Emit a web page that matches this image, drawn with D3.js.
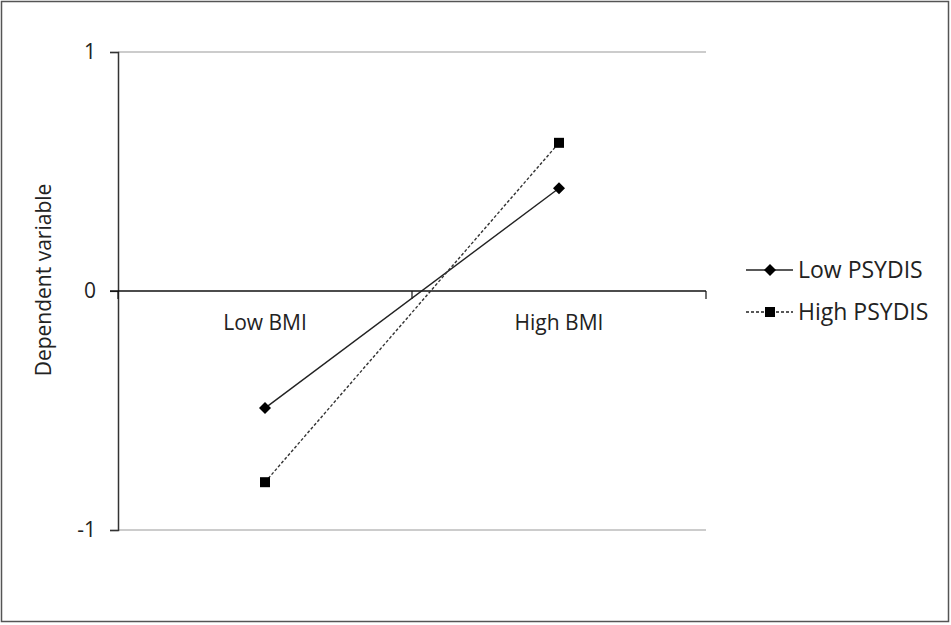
<!DOCTYPE html>
<html><head><meta charset="utf-8">
<script src="https://cdn.jsdelivr.net/npm/d3@7"></script>
<style>body{margin:0;background:#fff}svg{display:block}text{font-family:"Open Sans",sans-serif;fill:#222}</style>
</head><body>
<svg id="c" width="951" height="625"></svg>
<script>
const categories = ["Low BMI", "High BMI"];
const seriesNames = ["Low PSYDIS", "High PSYDIS"];
const lowPsydis = [-0.49, 0.43];
const highPsydis = [-0.80, 0.62];
const yTicks = [-1, 0, 1];
const yTitle = "Dependent variable";

const svg = d3.select("#c");
svg.append("rect").attr("x",1.5).attr("y",1.5).attr("width",947).attr("height",620)
  .attr("fill","#fff").attr("stroke","#555").attr("stroke-width",1.5);

const L=118, R=706, T=52, B=530;
const x = d3.scaleBand().domain(categories).range([L,R]);
const y = d3.scaleLinear().domain([-1,1]).range([B,T]);

svg.selectAll(".grid").data(yTicks.filter(d=>d!==0)).enter().append("line")
  .attr("x1",L).attr("x2",R).attr("y1",d=>y(d)).attr("y2",d=>y(d))
  .attr("stroke","#999").attr("stroke-width",1.2);

const yAxis = svg.append("g").attr("transform",`translate(${L},0)`)
  .call(d3.axisLeft(y).tickValues(yTicks).tickSize(8).tickPadding(14).tickFormat(d=>String(d)));
yAxis.select(".domain").attr("stroke","#333").attr("stroke-width",1.5);
yAxis.selectAll(".tick line").attr("stroke","#333").attr("stroke-width",1.2);
yAxis.selectAll(".tick text").attr("font-size",21).attr("fill","#222").style("font-family","'Open Sans',sans-serif");

const xAxis = svg.append("g").attr("transform",`translate(0,${y(0)})`)
  .call(d3.axisBottom(x).tickSize(0).tickPadding(24));
xAxis.select(".domain").remove();
xAxis.selectAll(".tick text").attr("font-size",21).attr("fill","#222").style("font-family","'Open Sans',sans-serif");
svg.append("line").attr("x1",L-8).attr("x2",R).attr("y1",y(0)).attr("y2",y(0)).attr("stroke","#111").attr("stroke-width",1.5);
const bounds = [L, x(categories[1]), R];
svg.selectAll(".xt").data(bounds).enter().append("line")
  .attr("x1",d=>d).attr("x2",d=>d).attr("y1",y(0)).attr("y2",y(0)+8)
  .attr("stroke","#111").attr("stroke-width",1.2);

svg.append("text").attr("transform",`translate(51,280) rotate(-90)`)
  .attr("text-anchor","middle").attr("font-size",21).text(yTitle);

const cx = c => x(c)+x.bandwidth()/2;
const line = d3.line().x((d,i)=>cx(categories[i])).y(d=>y(d));

svg.append("path").datum(lowPsydis).attr("d",line).attr("fill","none").attr("stroke","#222").attr("stroke-width",1.4);
svg.append("path").datum(highPsydis).attr("d",line).attr("fill","none").attr("stroke","#333").attr("stroke-width",1.4).attr("stroke-dasharray","3,2");

const dm = 6;
svg.selectAll(".d").data(lowPsydis).enter().append("rect")
  .attr("x",-dm/2*1.414).attr("y",-dm/2*1.414).attr("width",dm*1.414).attr("height",dm*1.414)
  .attr("transform",(d,i)=>`translate(${cx(categories[i])},${y(d)}) rotate(45)`).attr("fill","#000");
svg.selectAll(".s").data(highPsydis).enter().append("rect")
  .attr("x",(d,i)=>cx(categories[i])-5).attr("y",d=>y(d)-5).attr("width",10).attr("height",10).attr("fill","#000");

const lg = svg.append("g");
const ly = [270, 312];
seriesNames.forEach((n,i)=>{
  lg.append("line").attr("x1",746).attr("x2",793).attr("y1",ly[i]).attr("y2",ly[i])
    .attr("stroke","#222").attr("stroke-width",1.4).attr("stroke-dasharray",i?"3,2":null);
  if(i===0) lg.append("rect").attr("x",-dm/2*1.414).attr("y",-dm/2*1.414).attr("width",dm*1.414).attr("height",dm*1.414)
    .attr("transform",`translate(770,${ly[i]}) rotate(45)`).attr("fill","#000");
  else lg.append("rect").attr("x",765).attr("y",ly[i]-5).attr("width",10).attr("height",10).attr("fill","#000");
  lg.append("text").attr("x",798).attr("y",ly[i]).attr("dy","0.35em").attr("font-size",23).text(n);
});
</script>
</body></html>
